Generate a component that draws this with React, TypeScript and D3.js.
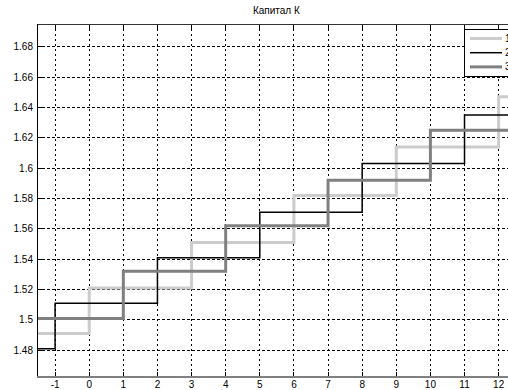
import React from "react";
import * as d3 from "d3";

// Step breakpoints (x where a new level starts) and levels for each series
const s1X = [-1.53, 0, 3, 6, 9, 12];
const s1Y = [1.491, 1.521, 1.551, 1.582, 1.614, 1.647];
const s2X = [-1.53, -1, 2, 5, 8, 11];
const s2Y = [1.481, 1.511, 1.541, 1.571, 1.603, 1.635];
const s3X = [-1.53, 1, 4, 7, 10];
const s3Y = [1.501, 1.532, 1.562, 1.592, 1.625];
const xTicks = [-1, 0, 1, 2, 3, 4, 5, 6, 7, 8, 9, 10, 11, 12];
const yTicks = [1.48, 1.5, 1.52, 1.54, 1.56, 1.58, 1.6, 1.62, 1.64, 1.66, 1.68];
const yTickLabels = ["1.48", "1.5", "1.52", "1.54", "1.56", "1.58", "1.6", "1.62", "1.64", "1.66", "1.68"];
const legendLabels = ["1", "2", "3"];
const title = "Капитал К";

const X_MIN = -1.53;
const X_MAX = 12.5;

export default function App() {
  const W = 508, H = 390;
  const left = 37, top = 24, bottom = 376.7;
  const x = d3.scaleLinear().domain([X_MIN, X_MAX]).range([left, left + (X_MAX - X_MIN) * 34.12]);
  const y = d3.scaleLinear().domain([1.48, 1.68]).range([350.3, 46.7]);
  const right = x(X_MAX);

  const mk = (xs: number[], ys: number[]) => {
    const pts: [number, number][] = xs.map((v, i) => [v, ys[i]]);
    pts.push([X_MAX, ys[ys.length - 1]]);
    return d3.line<[number, number]>().x(d => x(d[0])).y(d => y(d[1])).curve(d3.curveStepAfter)(pts) || "";
  };

  const series = [
    { d: mk(s1X, s1Y), color: "#cccccc", w: 3 },
    { d: mk(s2X, s2Y), color: "#000000", w: 1.5 },
    { d: mk(s3X, s3Y), color: "#808080", w: 3 },
  ];

  const font = "'Liberation Sans', Arial, sans-serif";

  return (
    <svg width={W} height={H} style={{ position: "absolute", left: 0, top: 0, background: "#fff" }} fontFamily={font}>
      <rect x={0} y={0} width={W} height={H} fill="#fff" />
      <text x={(left + right) / 2} y={14} fontSize={10} textAnchor="middle" fill="#000">{title}</text>
      {/* grid */}
      {xTicks.map(t => (
        <line key={"gx" + t} x1={x(t)} x2={x(t)} y1={top} y2={bottom} stroke="#000" strokeWidth={1} strokeDasharray="2,3" shapeRendering="crispEdges" />
      ))}
      {yTicks.map(t => (
        <line key={"gy" + t} x1={left} x2={right} y1={y(t)} y2={y(t)} stroke="#000" strokeWidth={1} strokeDasharray="3,2" shapeRendering="crispEdges" />
      ))}
      {/* ticks */}
      {xTicks.map(t => (
        <g key={"tx" + t}>
          <line x1={x(t)} x2={x(t)} y1={bottom} y2={bottom - 5} stroke="#000" shapeRendering="crispEdges" />
          <line x1={x(t)} x2={x(t)} y1={top} y2={top + 5} stroke="#000" shapeRendering="crispEdges" />
          <text x={x(t)} y={bottom + 11} fontSize={10} textAnchor="middle" fill="#000">{t}</text>
        </g>
      ))}
      {yTicks.map((t, i) => (
        <g key={"ty" + t}>
          <line x1={left} x2={left + 5} y1={y(t)} y2={y(t)} stroke="#000" shapeRendering="crispEdges" />
          <text x={left - 4} y={y(t) + 3.5} fontSize={10} textAnchor="end" fill="#000">{yTickLabels[i]}</text>
        </g>
      ))}
      {/* series */}
      {series.map((s, i) => (
        <path key={i} d={s.d} fill="none" stroke={s.color} strokeWidth={s.w} strokeLinejoin="miter" />
      ))}
      {/* axes box */}
      <line x1={left} x2={right} y1={top} y2={top} stroke="#333" strokeWidth={1} shapeRendering="crispEdges" />
      <line x1={left} x2={left} y1={top} y2={bottom} stroke="#000" strokeWidth={1} shapeRendering="crispEdges" />
      <line x1={left} x2={right} y1={bottom} y2={bottom} stroke="#808080" strokeWidth={2} shapeRendering="crispEdges" />
      {/* legend */}
      <rect x={464.5} y={29.5} width={50} height={47} fill="#fff" stroke="#000" strokeWidth={1} shapeRendering="crispEdges" />
      {series.map((s, i) => {
        const ly = 38.5 + i * 14.2;
        return (
          <g key={"lg" + i}>
            <line x1={470} x2={502} y1={ly} y2={ly} stroke={s.color} strokeWidth={s.w} />
            <text x={505} y={ly + 3.5} fontSize={10} fill="#000">{legendLabels[i]}</text>
          </g>
        );
      })}
    </svg>
  );
}
